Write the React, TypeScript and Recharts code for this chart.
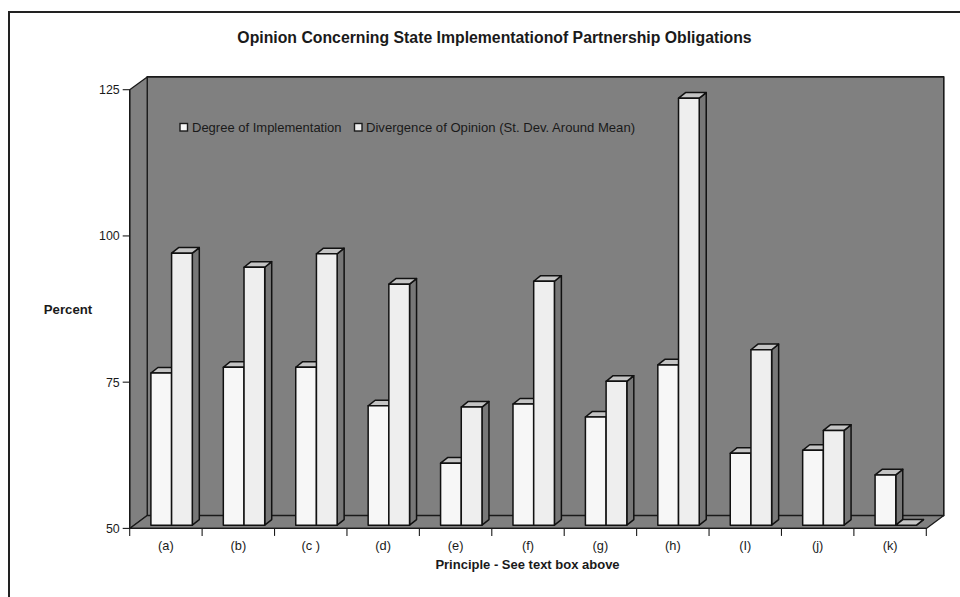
import { Bar, BarChart, XAxis, YAxis, usePlotArea } from "recharts";

const principles = ["(a)", "(b)", "(c )", "(d)", "(e)", "(f)", "(g)", "(h)", "(I)", "(j)", "(k)"];
const implementation = [76, 77, 77, 70.4, 60.6, 70.7, 68.5, 77.4, 62.3, 62.8, 58.6];
const divergence = [96.5, 94.1, 96.4, 91.2, 70.2, 91.7, 74.6, 123, 80, 66.2, 50];
const yTicks = [50, 75, 100, 125];
const legendNames = ["Degree of Implementation", "Divergence of Opinion (St. Dev. Around Mean)"];

const rows = principles.map((principle, i) => ({
  principle,
  implementation: implementation[i],
  divergence: divergence[i],
}));

const FONT = "'Liberation Sans', Arial, sans-serif";
const INK = "#1a1a1a";
const WALL = "#808080";

// depth of the box behind the plot, and of each column
const WALL_DX = 17.5;
const WALL_DY = 12.8;
const BAR_DX = 7;
const BAR_DY = 5.6;
// columns sit slightly inside the floor
const SHIFT_X = 5.2;
const SHIFT_Y = -3.2;

const pts = (list: number[][]) => list.map((p) => p.join(",")).join(" ");

function Walls() {
  const plot = usePlotArea();
  if (!plot) return null;
  const left = plot.x;
  const right = plot.x + plot.width;
  const top = plot.y;
  const bottom = plot.y + plot.height;
  return (
    <g stroke={INK} strokeLinejoin="round">
      <polygon
        points={pts([
          [left + WALL_DX, top - WALL_DY],
          [right + WALL_DX, top - WALL_DY],
          [right + WALL_DX, bottom - WALL_DY],
          [left + WALL_DX, bottom - WALL_DY],
        ])}
        fill={WALL}
        strokeWidth={1.6}
      />
      <polygon
        points={pts([
          [left, top],
          [left + WALL_DX, top - WALL_DY],
          [left + WALL_DX, bottom - WALL_DY],
          [left, bottom],
        ])}
        fill={WALL}
        strokeWidth={1.3}
      />
      <polygon
        points={pts([
          [left, bottom],
          [left + WALL_DX, bottom - WALL_DY],
          [right + WALL_DX, bottom - WALL_DY],
          [right, bottom],
        ])}
        fill={WALL}
        strokeWidth={1.3}
      />
    </g>
  );
}

function Column({ x, y, width, height, fill }: any) {
  const l = x + SHIFT_X;
  const r = l + width;
  const t = y + SHIFT_Y;
  const b = t + height;
  return (
    <g stroke="#111" strokeWidth={1.5} strokeLinejoin="round">
      <polygon
        points={pts([
          [r, t],
          [r + BAR_DX, t - BAR_DY],
          [r + BAR_DX, b - BAR_DY],
          [r, b],
        ])}
        fill="#777777"
      />
      <polygon
        points={pts([
          [l, t],
          [l + BAR_DX, t - BAR_DY],
          [r + BAR_DX, t - BAR_DY],
          [r, t],
        ])}
        fill="#c4c4c4"
      />
      <rect x={l} y={t} width={width} height={height} fill={fill} />
    </g>
  );
}

// category label plus separator ticks on the band edges
function PrincipleTick({ x, payload, index }: any) {
  const plot = usePlotArea();
  if (!plot) return null;
  const band = plot.width / principles.length;
  const axisY = plot.y + plot.height;
  return (
    <g>
      <line x1={x - band / 2} x2={x - band / 2} y1={axisY} y2={axisY + 7.5} stroke={INK} strokeWidth={1.1} />
      {index === principles.length - 1 && (
        <line x1={x + band / 2} x2={x + band / 2} y1={axisY} y2={axisY + 7.5} stroke={INK} strokeWidth={1.1} />
      )}
      <text x={x} y={axisY + 22} textAnchor="middle" fontFamily={FONT} fontSize={12.8} fill={INK}>
        {payload.value}
      </text>
    </g>
  );
}

function Captions() {
  return (
    <g fontFamily={FONT} fill={INK}>
      <text x={494.5} y={43} textAnchor="middle" fontSize={15.8} fontWeight="bold">
        Opinion Concerning State Implementationof Partnership Obligations
      </text>
      <text x={68} y={313.5} textAnchor="middle" fontSize={13.2} fontWeight="bold">
        Percent
      </text>
      <text x={527.5} y={569} textAnchor="middle" fontSize={13} fontWeight="bold">
        Principle - See text box above
      </text>
      <rect x={180} y={123.5} width={7.5} height={7.5} fill="#f7f7f7" stroke={INK} strokeWidth={1.4} />
      <text x={192} y={132} fontSize={13}>
        {legendNames[0]}
      </text>
      <rect x={354.5} y={123.5} width={7.5} height={7.5} fill="#eeeeee" stroke={INK} strokeWidth={1.4} />
      <text x={366} y={132} fontSize={13.1}>
        {legendNames[1]}
      </text>
    </g>
  );
}

export default function App() {
  return (
    <div style={{ position: "absolute", left: 0, top: 0, width: 960, height: 597, background: "#fff", overflow: "hidden" }}>
      <div
        style={{
          position: "absolute",
          left: 8,
          top: 11,
          right: 0,
          bottom: 0,
          borderLeft: "2px solid #222",
          borderTop: "2px solid #222",
        }}
      />
      <BarChart
        width={960}
        height={597}
        data={rows}
        margin={{ top: 89.7, right: 33.7, bottom: 28.6, left: 69.7 }}
        barSize={20.7}
        barGap={0}
        style={{ position: "absolute", left: 0, top: 0 }}
      >
        <Walls />
        <XAxis
          dataKey="principle"
          height={40}
          axisLine={{ stroke: INK, strokeWidth: 1.3 }}
          tickLine={false}
          interval={0}
          tick={<PrincipleTick />}
        />
        <YAxis
          width={60}
          domain={[50, 125]}
          ticks={yTicks}
          axisLine={{ stroke: INK, strokeWidth: 1.3 }}
          tickLine={{ stroke: INK, strokeWidth: 1.1 }}
          tickSize={7}
          tickMargin={3}
          tick={{ fontFamily: FONT, fontSize: 12.4, fill: INK }}
        />
        <Bar dataKey="implementation" name={legendNames[0]} fill="#f7f7f7" shape={<Column />} isAnimationActive={false} />
        <Bar dataKey="divergence" name={legendNames[1]} fill="#eeeeee" shape={<Column />} isAnimationActive={false} />
        <Captions />
      </BarChart>
    </div>
  );
}
